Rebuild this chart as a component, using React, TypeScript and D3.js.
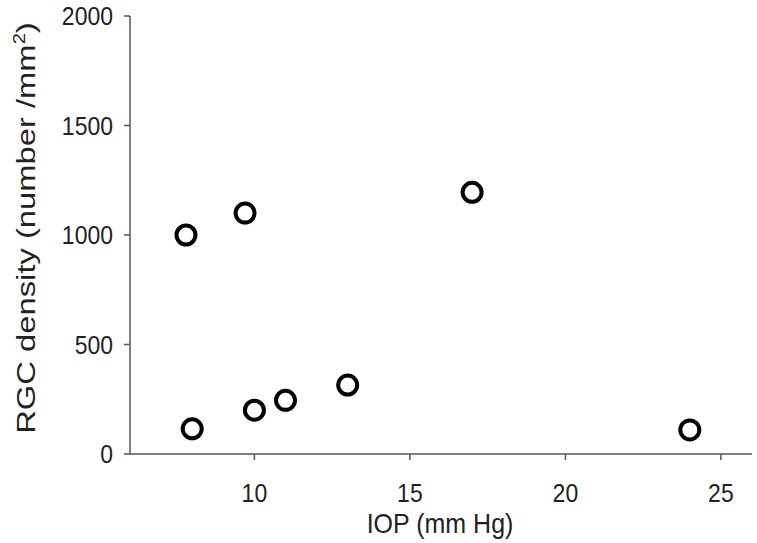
import React from "react";
import * as d3 from "d3";

const iop: number[] = [7.8, 8.0, 9.7, 10.0, 11.0, 13.0, 17.0, 24.0];
const rgc: number[] = [1000, 115, 1100, 200, 245, 315, 1195, 110];
const xTicks: number[] = [10, 15, 20, 25];
const yTicks: number[] = [0, 500, 1000, 1500, 2000];

const W = 757;
const H = 543;
const left = 130;
const right = 752;
const top = 16;
const bottom = 454;

export default function App() {
  const x = d3.scaleLinear().domain([6, 26]).range([left, right]);
  const y = d3.scaleLinear().domain([0, 2000]).range([bottom, top]);
  const axisColor = "#555";
  const font = "Arial, 'Liberation Sans', sans-serif";
  return (
    <svg width={W} height={H} style={{ position: "absolute", left: 0, top: 0, background: "#fff" }}>
      <rect width={W} height={H} fill="#fff" />
      <line x1={left} x2={left} y1={top} y2={bottom} stroke={axisColor} strokeWidth={1.5} />
      <line x1={left} x2={right} y1={bottom} y2={bottom} stroke={axisColor} strokeWidth={1.5} />
      {yTicks.map((t) => (
        <g key={"y" + t}>
          <line x1={left - 6} x2={left} y1={y(t)} y2={y(t)} stroke={axisColor} strokeWidth={1.5} />
          <text
            transform={`translate(${left - 17}, ${y(t)}) scale(1, 1.12)`}
            dy="0.36em"
            textAnchor="end"
            fontFamily={font}
            fontSize={23}
            fill="#222"
          >
            {t}
          </text>
        </g>
      ))}
      {xTicks.map((t) => (
        <g key={"x" + t}>
          <line x1={x(t)} x2={x(t)} y1={bottom} y2={bottom + 6} stroke={axisColor} strokeWidth={1.5} />
          <text
            transform={`translate(${x(t)}, ${bottom + 48}) scale(1, 1.12)`}
            textAnchor="middle"
            fontFamily={font}
            fontSize={23}
            fill="#222"
          >
            {t}
          </text>
        </g>
      ))}
      <text
        transform={`translate(440, 533) scale(1, 1.1)`}
        textAnchor="middle"
        fontFamily={font}
        fontSize={25}
        fill="#222"
      >
        IOP (mm Hg)
      </text>
      <text
        transform={`translate(35, 228) rotate(-90) scale(1.26, 1)`}
        textAnchor="middle"
        fontFamily={font}
        fontSize={26}
        fill="#222"
      >
        RGC density (number /mm
        <tspan fontSize={16} dy={-10}>2</tspan>
        <tspan dy={10}>)</tspan>
      </text>
      {iop.map((v, i) => (
        <circle key={i} cx={x(v)} cy={y(rgc[i])} r={9.5} fill="#fff" stroke="#000" strokeWidth={4} />
      ))}
    </svg>
  );
}
